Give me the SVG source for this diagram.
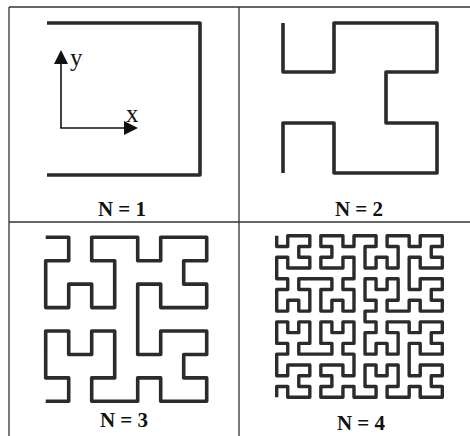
<svg xmlns="http://www.w3.org/2000/svg" width="470" height="436" viewBox="0 0 470 436">
<style>
.frame{stroke:#333;stroke-width:1.3;fill:none}
.curve{stroke:#2b2b2b;stroke-width:3.6;fill:none;stroke-linejoin:round;stroke-linecap:butt}
.c4{stroke-width:3.4}
.axis{stroke:#111;stroke-width:1.6;fill:none}
.lbl{font-family:"Liberation Serif","Times New Roman",serif;font-weight:bold;font-size:21px;fill:#111;text-anchor:middle}
.ax{font-family:"Liberation Serif","Times New Roman",serif;font-size:25px;fill:#111}
</style>
<defs>
<marker id="arrow" markerUnits="userSpaceOnUse" markerWidth="15" markerHeight="14" refX="0" refY="7" orient="auto">
<path d="M0,0 L14,7 L0,14 z" fill="#111"/>
</marker>
</defs>
<g id="frame">
<line class="frame" x1="9" y1="7" x2="470" y2="7"/>
<line class="frame" x1="9" y1="7" x2="9" y2="436"/>
<line class="frame" x1="239" y1="7" x2="239" y2="436"/>
<line class="frame" x1="9" y1="222" x2="470" y2="222"/>
</g>
<g id="panel-n1">
<path class="curve" d="M47,23 H200 V175 H47"/>
<g id="axes">
<line class="axis" x1="61" y1="128" x2="61" y2="64" marker-end="url(#arrow)"/>
<line class="axis" x1="60.2" y1="128" x2="124" y2="128" marker-end="url(#arrow)"/>
<text class="ax" x="70" y="66">y</text>
<text class="ax" x="126" y="122">x</text>
</g>
<text class="lbl" x="122" y="216">N = 1</text>
</g>
<g id="panel-n2">
<path class="curve" d="M283,23 V72 H334 V23 H437 V72 H386 V123 H437 V173 H334 V123 H283 V173"/>
<text class="lbl" x="359" y="216">N = 2</text>
</g>
<g id="panel-n3">
<path class="curve" d="M45.7,237.3 h23 v23.43 h-23 v23.43 v23.43 h23 v-23.43 h23 v23.43 h23 v-23.43 v-23.43 h-23 v-23.43 h23 h23 v23.43 h23 v-23.43 h23 h23 v23.43 h-23 v23.43 h23 v23.43 h-23 h-23 v-23.43 h-23 v23.43 v23.43 v23.43 h23 v-23.43 h23 h23 v23.43 h-23 v23.43 h23 v23.43 h-23 h-23 v-23.43 h-23 v23.43 h-23 h-23 v-23.43 h23 v-23.43 v-23.43 h-23 v23.43 h-23 v-23.43 h-23 v23.43 v23.43 h23 v23.43 h-23"/>
<text class="lbl" x="124" y="427">N = 3</text>
</g>
<g id="panel-n4">
<path class="curve c4" d="M276.7,235.7
v10.77 h11.04 v-10.77 h11.04 h11.04 v10.77 h-11.04 v10.77 h11.04 v10.77 h-11.04 h-11.04 v-10.77 h-11.04 v10.77
v10.77
h11.04 v10.77 h-11.04 v10.77 v10.77 h11.04 v-10.77 h11.04 v10.77 h11.04 v-10.77 v-10.77 h-11.04 v-10.77 h11.04
h11.04
h11.04 v10.77 h-11.04 v10.77 v10.77 h11.04 v-10.77 h11.04 v10.77 h11.04 v-10.77 v-10.77 h-11.04 v-10.77 h11.04
v-10.77
v-10.77 h-11.04 v10.77 h-11.04 h-11.04 v-10.77 h11.04 v-10.77 h-11.04 v-10.77 h11.04 h11.04 v10.77 h11.04 v-10.77
h11.04
h11.04 v10.77 h-11.04 v10.77 v10.77 h11.04 v-10.77 h11.04 v10.77 h11.04 v-10.77 v-10.77 h-11.04 v-10.77 h11.04
h11.04
v10.77 h11.04 v-10.77 h11.04 h11.04 v10.77 h-11.04 v10.77 h11.04 v10.77 h-11.04 h-11.04 v-10.77 h-11.04 v10.77
v10.77
v10.77 h11.04 v-10.77 h11.04 h11.04 v10.77 h-11.04 v10.77 h11.04 v10.77 h-11.04 h-11.04 v-10.77 h-11.04 v10.77
h-11.04
h-11.04 v-10.77 h11.04 v-10.77 v-10.77 h-11.04 v10.77 h-11.04 v-10.77 h-11.04 v10.77 v10.77 h11.04 v10.77 h-11.04
v10.77
h11.04 v10.77 h-11.04 v10.77 v10.77 h11.04 v-10.77 h11.04 v10.77 h11.04 v-10.77 v-10.77 h-11.04 v-10.77 h11.04
h11.04
v10.77 h11.04 v-10.77 h11.04 h11.04 v10.77 h-11.04 v10.77 h11.04 v10.77 h-11.04 h-11.04 v-10.77 h-11.04 v10.77
v10.77
v10.77 h11.04 v-10.77 h11.04 h11.04 v10.77 h-11.04 v10.77 h11.04 v10.77 h-11.04 h-11.04 v-10.77 h-11.04 v10.77
h-11.04
h-11.04 v-10.77 h11.04 v-10.77 v-10.77 h-11.04 v10.77 h-11.04 v-10.77 h-11.04 v10.77 v10.77 h11.04 v10.77 h-11.04
h-11.04
v-10.77 h-11.04 v10.77 h-11.04 h-11.04 v-10.77 h11.04 v-10.77 h-11.04 v-10.77 h11.04 h11.04 v10.77 h11.04 v-10.77
v-10.77
h-11.04 v-10.77 h11.04 v-10.77 v-10.77 h-11.04 v10.77 h-11.04 v-10.77 h-11.04 v10.77 v10.77 h11.04 v10.77 h-11.04
h-11.04
h-11.04 v-10.77 h11.04 v-10.77 v-10.77 h-11.04 v10.77 h-11.04 v-10.77 h-11.04 v10.77 v10.77 h11.04 v10.77 h-11.04
v10.77
v10.77 h11.04 v-10.77 h11.04 h11.04 v10.77 h-11.04 v10.77 h11.04 v10.77 h-11.04 h-11.04 v-10.77 h-11.04 v10.77"/>
<text class="lbl" x="361" y="430">N = 4</text>
</g>
</svg>
